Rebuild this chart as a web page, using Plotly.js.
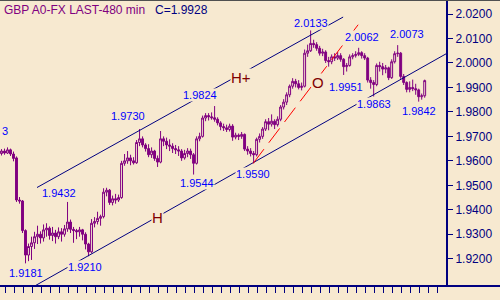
<!DOCTYPE html>
<html>
<head>
<meta charset="utf-8">
<script src="https://cdn.plot.ly/plotly-3.0.1.min.js"></script>
<style>html,body{margin:0;padding:0;background:#F7E9D0;}#chart{width:500px;height:300px;}</style>
</head>
<body>
<div id="chart"></div>
<script>
// ---- data (GBP 480-min bars) ----
const openP = [1.9630,1.9640,1.9632,1.9645,1.9628,1.9612,1.9440,1.9436,1.9315,1.9215,
1.9250,1.9265,1.9290,1.9300,1.9285,1.9318,1.9325,1.9295,1.9305,1.9290,
1.9310,1.9300,1.9322,1.9350,1.9320,1.9315,1.9310,1.9318,1.9300,1.9260,
1.9228,1.9345,1.9352,1.9365,1.9372,1.9472,1.9480,1.9430,1.9445,1.9440,
1.9450,1.9590,1.9600,1.9612,1.9600,1.9592,1.9675,1.9690,1.9665,1.9650,
1.9625,1.9640,1.9610,1.9595,1.9690,1.9680,1.9665,1.9660,1.9650,1.9645,
1.9640,1.9612,1.9630,1.9640,1.9625,1.9590,1.9690,1.9700,1.9775,1.9785,
1.9780,1.9776,1.9770,1.9755,1.9740,1.9735,1.9728,1.9742,1.9697,1.9705,
1.9700,1.9708,1.9648,1.9640,1.9630,1.9625,1.9688,1.9700,1.9730,1.9760,
1.9750,1.9762,1.9748,1.9770,1.9820,1.9840,1.9870,1.9905,1.9925,1.9915,
1.9900,1.9905,2.0040,2.0050,2.0080,2.0075,2.0060,2.0040,2.0045,2.0010,
2.0005,2.0025,2.0020,2.0030,2.0015,1.9985,1.9990,2.0025,2.0030,2.0035,
2.0042,2.0030,2.0020,1.9930,1.9920,1.9912,1.9990,1.9985,1.9975,1.9980,
1.9940,2.0005,2.0038,2.0040,1.9945,1.9920,1.9892,1.9900,1.9895,1.9890,
1.9862,1.9866];
const highP = [1.9648,1.9650,1.9655,1.9650,1.9638,1.9618,1.9452,1.9440,1.9320,1.9262,
1.9290,1.9310,1.9335,1.9312,1.9340,1.9345,1.9332,1.9330,1.9318,1.9328,
1.9325,1.9338,1.9432,1.9360,1.9330,1.9322,1.9330,1.9322,1.9308,1.9265,
1.9362,1.9370,1.9392,1.9380,1.9488,1.9490,1.9485,1.9458,1.9465,1.9462,
1.9600,1.9628,1.9640,1.9625,1.9615,1.9685,1.9730,1.9700,1.9672,1.9668,
1.9655,1.9645,1.9622,1.9722,1.9700,1.9695,1.9688,1.9672,1.9665,1.9660,
1.9648,1.9645,1.9652,1.9650,1.9632,1.9700,1.9715,1.9785,1.9795,1.9795,
1.9798,1.9824,1.9778,1.9762,1.9752,1.9748,1.9752,1.9750,1.9715,1.9712,
1.9718,1.9712,1.9660,1.9652,1.9640,1.9695,1.9712,1.9738,1.9770,1.9775,
1.9790,1.9770,1.9782,1.9828,1.9852,1.9880,1.9912,1.9938,1.9935,1.9930,
1.9920,2.0055,2.0075,2.0133,2.0095,2.0085,2.0070,2.0058,2.0052,2.0025,
2.0035,2.0040,2.0045,2.0040,2.0020,2.0000,2.0035,2.0040,2.0048,2.0062,
2.0048,2.0040,2.0025,1.9942,1.9930,1.9998,2.0005,2.0000,1.9992,1.9985,
2.0015,2.0048,2.0073,2.0045,1.9955,1.9925,1.9925,1.9932,1.9915,1.9895,
1.9875,1.9932];
const lowP = [1.9622,1.9625,1.9628,1.9620,1.9598,1.9432,1.9425,1.9305,1.9181,1.9190,
1.9195,1.9240,1.9260,1.9262,1.9270,1.9290,1.9278,1.9272,1.9262,1.9280,
1.9270,1.9290,1.9310,1.9305,1.9265,1.9280,1.9290,1.9275,1.9238,1.9210,
1.9222,1.9328,1.9340,1.9335,1.9365,1.9455,1.9420,1.9418,1.9425,1.9432,
1.9445,1.9580,1.9588,1.9582,1.9585,1.9588,1.9660,1.9655,1.9638,1.9615,
1.9612,1.9600,1.9575,1.9590,1.9660,1.9648,1.9640,1.9632,1.9628,1.9620,
1.9600,1.9605,1.9615,1.9608,1.9544,1.9585,1.9680,1.9695,1.9762,1.9765,
1.9768,1.9760,1.9745,1.9725,1.9722,1.9718,1.9720,1.9682,1.9688,1.9685,
1.9690,1.9640,1.9625,1.9618,1.9590,1.9618,1.9675,1.9690,1.9722,1.9725,
1.9740,1.9730,1.9740,1.9762,1.9810,1.9828,1.9860,1.9895,1.9900,1.9892,
1.9888,1.9900,2.0025,2.0045,2.0062,2.0050,2.0030,2.0028,2.0000,1.9985,
1.9995,2.0008,2.0012,2.0005,1.9951,1.9965,1.9985,2.0015,2.0022,2.0028,
2.0018,2.0012,1.9920,1.9895,1.9863,1.9905,1.9965,1.9950,1.9958,1.9930,
1.9935,1.9998,2.0025,1.9935,1.9910,1.9880,1.9880,1.9885,1.9870,1.9842,
1.9850,1.9858];
const closeP = [1.9640,1.9632,1.9645,1.9628,1.9610,1.9440,1.9436,1.9315,1.9215,1.9250,
1.9265,1.9290,1.9300,1.9285,1.9318,1.9325,1.9295,1.9305,1.9290,1.9310,
1.9300,1.9322,1.9350,1.9320,1.9315,1.9310,1.9318,1.9300,1.9260,1.9228,
1.9345,1.9352,1.9365,1.9372,1.9472,1.9480,1.9430,1.9445,1.9440,1.9450,
1.9590,1.9600,1.9612,1.9600,1.9592,1.9675,1.9690,1.9665,1.9650,1.9625,
1.9640,1.9610,1.9595,1.9690,1.9680,1.9665,1.9660,1.9650,1.9645,1.9640,
1.9612,1.9630,1.9640,1.9625,1.9590,1.9690,1.9700,1.9775,1.9785,1.9780,
1.9776,1.9770,1.9755,1.9740,1.9735,1.9728,1.9742,1.9697,1.9705,1.9700,
1.9708,1.9648,1.9640,1.9630,1.9625,1.9688,1.9700,1.9730,1.9760,1.9750,
1.9762,1.9748,1.9770,1.9820,1.9840,1.9870,1.9905,1.9925,1.9915,1.9900,
1.9905,2.0040,2.0050,2.0080,2.0075,2.0060,2.0040,2.0045,2.0010,2.0005,
2.0025,2.0020,2.0030,2.0015,1.9985,1.9990,2.0025,2.0030,2.0035,2.0042,
2.0030,2.0020,1.9930,1.9920,1.9912,1.9990,1.9985,1.9975,1.9980,1.9940,
2.0005,2.0038,2.0040,1.9945,1.9920,1.9892,1.9900,1.9895,1.9890,1.9862,
1.9866,1.9928];

// trend lines (bar index, price)
const upperChannelX = [11.83, 113.83];
const upperChannelY = [1.94910, 2.01877];
const lowerChannelX = [11.17, 148.1];
const lowerChannelY = [1.90893, 2.00373];
const redLineX = [83.83, 119.5];
const redLineY = [1.95893, 2.01672];

// pivot labels
const pivotText = ['1.9181','1.9210','1.9432','1.9730','1.9824','1.9544','1.9590','2.0133','2.0062','2.0073','1.9951','1.9863','1.9842','3'];
const pivotX    = [8.17, 27.83, 19.17, 42.17, 66.17, 65.17, 83.83, 103.17, 120.17, 135.17, 114.83, 124.17, 139.17, 1.17];
const pivotY    = [1.91426,1.91672,1.94705,1.97820,1.98680,1.95115,1.95443,2.01631,2.01057,2.01180,1.99008,1.98311,1.98025,1.97205];
const markText  = ['H+','H','O'];
const markX     = [79.83, 51.83, 105.5];
const markY     = [1.99418, 1.93680, 1.99213];

const yTickVals = [1.92,1.93,1.94,1.95,1.96,1.97,1.98,1.99,2.00,2.01,2.02];
const titleText = 'GBP A0-FX LAST-480 min';
const lastText = 'C=1.9928';

const BG = '#F7E9D0';
const PURPLE = '#800080';
const NAVY = '#000080';
const FONT = 'Liberation Sans, Arial, sans-serif';

const xIdx = closeP.map((_, i) => i);

const traces = [
  {
    type: 'candlestick', x: xIdx, open: openP, high: highP, low: lowP, close: closeP,
    increasing: {line: {color: PURPLE, width: 1}, fillcolor: BG},
    decreasing: {line: {color: PURPLE, width: 1}, fillcolor: PURPLE},
    whiskerwidth: 0, hoverinfo: 'skip', showlegend: false
  },
  {type: 'scatter', mode: 'lines', x: upperChannelX, y: upperChannelY, line: {color: NAVY, width: 1}, hoverinfo: 'skip', showlegend: false},
  {type: 'scatter', mode: 'lines', x: lowerChannelX, y: lowerChannelY, line: {color: NAVY, width: 1}, hoverinfo: 'skip', showlegend: false},
  {type: 'scatter', mode: 'lines', x: redLineX, y: redLineY, line: {color: '#FF0000', width: 1, dash: '18px,8px'}, hoverinfo: 'skip', showlegend: false}
];

const annotations = [];
pivotText.forEach((t, i) => annotations.push({
  x: pivotX[i], y: pivotY[i], xref: 'x', yref: 'y', text: t, showarrow: false,
  xanchor: 'center', yanchor: 'middle', bgcolor: BG, borderpad: 0,
  font: {family: FONT, size: 11, color: '#0000FF'}
}));
markText.forEach((t, i) => annotations.push({
  x: markX[i], y: markY[i], xref: 'x', yref: 'y', text: t, showarrow: false,
  xanchor: 'center', yanchor: 'middle', bgcolor: BG, borderpad: 0,
  font: {family: FONT, size: 15, color: '#800000'}
}));
annotations.push({x: 2/446, y: 1 - 9.5/286, xref: 'paper', yref: 'paper', text: titleText, showarrow: false,
  xanchor: 'left', yanchor: 'middle', font: {family: FONT, size: 12, color: PURPLE}});
annotations.push({x: 153/446, y: 1 - 9.5/286, xref: 'paper', yref: 'paper', text: lastText, showarrow: false,
  xanchor: 'left', yanchor: 'middle', font: {family: FONT, size: 12, color: NAVY}});

const layout = {
  width: 500, height: 300,
  margin: {l: 0, r: 54, t: 0, b: 14, pad: 0},
  paper_bgcolor: BG, plot_bgcolor: BG,
  showlegend: false, hovermode: false,
  boxgap: 0.1,
  xaxis: {
    range: [-0.5, 148.1], showgrid: false, zeroline: false, showline: false,
    tickmode: 'linear', tick0: 1.1667, dtick: 3, ticks: 'outside', ticklen: 6, tickwidth: 1,
    tickcolor: NAVY, showticklabels: false, rangeslider: {visible: false}, fixedrange: true
  },
  yaxis: {
    side: 'right', range: [1.90885, 2.02574], showgrid: false, zeroline: false,
    showline: true, linecolor: NAVY, linewidth: 2,
    tickmode: 'array', tickvals: yTickVals, tickformat: '.4f',
    ticks: 'outside', ticklen: 5, tickwidth: 1, tickcolor: NAVY,
    tickfont: {family: FONT, size: 12, color: NAVY}, fixedrange: true
  },
  shapes: [
    {type: 'line', xref: 'paper', yref: 'paper', x0: 0, x1: 500/446, y0: 0, y1: 0, line: {color: NAVY, width: 2}},
    {type: 'line', xref: 'paper', yref: 'paper', x0: 0, x1: 500/446, y0: 1, y1: 1, line: {color: '#505050', width: 2}}
  ],
  annotations: annotations
};

Plotly.newPlot('chart', traces, layout, {displayModeBar: false, staticPlot: true});
</script>
</body>
</html>
